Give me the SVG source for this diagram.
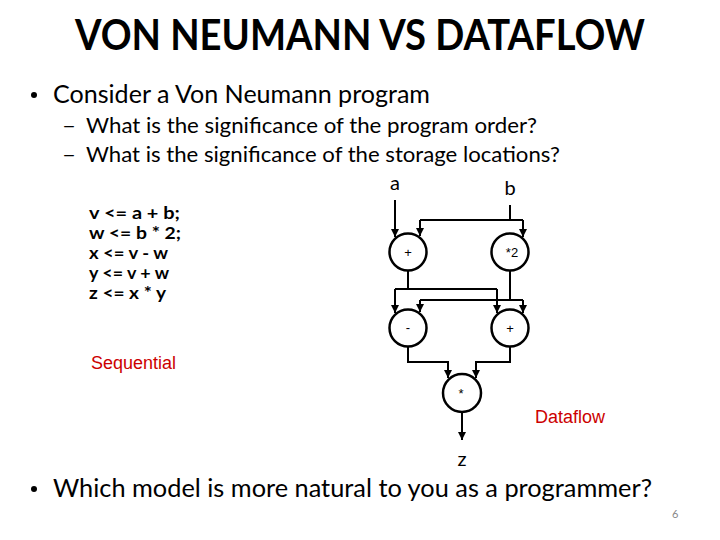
<svg xmlns="http://www.w3.org/2000/svg" width="720" height="540" viewBox="0 0 720 540">
<defs>
<marker id="ah" markerUnits="userSpaceOnUse" markerWidth="8" markerHeight="8" refX="8" refY="4" orient="auto"><path d="M0,0 L8,4 L0,8 z" fill="#000"/></marker>
<style>
.cal{font-family:Lato,"Open Sans","Liberation Sans",sans-serif;fill:#000}
.ar{font-family:"Liberation Sans",Arial,sans-serif}
.red{fill:#CC0000;font-size:18px}
.node circle{fill:#fff;stroke:#000;stroke-width:2.5}
.node text{font-family:"Liberation Sans",Arial,sans-serif;font-size:13px;text-anchor:middle}
.wire{fill:none;stroke:#000;stroke-width:2}
.arr{marker-end:url(#ah)}
.code{font-weight:bold;font-size:17.5px}
</style>
</defs>
<rect width="720" height="540" fill="#fff"/>
<text class="cal" x="360" y="50" font-size="42" font-weight="bold" text-anchor="middle" textLength="570" lengthAdjust="spacingAndGlyphs">VON NEUMANN VS DATAFLOW</text>
<circle cx="34" cy="95" r="3" fill="#000"/>
<text class="cal" x="53" y="103" font-size="25" textLength="377" lengthAdjust="spacingAndGlyphs">Consider a Von Neumann program</text>
<text class="cal" x="62" y="133" font-size="21" textLength="14" lengthAdjust="spacingAndGlyphs">–</text>
<text class="cal" x="86" y="133" font-size="21" textLength="451" lengthAdjust="spacingAndGlyphs">What is the significance of the program order?</text>
<text class="cal" x="62" y="162" font-size="21" textLength="14" lengthAdjust="spacingAndGlyphs">–</text>
<text class="cal" x="86" y="162" font-size="21" textLength="474" lengthAdjust="spacingAndGlyphs">What is the significance of the storage locations?</text>
<g id="code">
<text class="cal code" x="89" y="219" textLength="91" lengthAdjust="spacingAndGlyphs">v &lt;= a + b;</text>
<text class="cal code" x="89" y="239" textLength="92" lengthAdjust="spacingAndGlyphs">w &lt;= b * 2;</text>
<text class="cal code" x="89" y="259" textLength="79" lengthAdjust="spacingAndGlyphs">x &lt;= v - w</text>
<text class="cal code" x="89" y="279" textLength="80" lengthAdjust="spacingAndGlyphs">y &lt;= v + w</text>
<text class="cal code" x="89" y="299" textLength="77" lengthAdjust="spacingAndGlyphs">z &lt;= x * y</text>
</g>
<text class="ar red" x="91" y="369" textLength="85" lengthAdjust="spacingAndGlyphs">Sequential</text>
<text class="ar red" x="535" y="423" textLength="70" lengthAdjust="spacingAndGlyphs">Dataflow</text>
<text class="cal" x="395" y="190" font-size="20" text-anchor="middle">a</text>
<text class="cal" x="510" y="195" font-size="20" text-anchor="middle">b</text>
<text class="cal" x="462" y="466" font-size="20" text-anchor="middle">z</text>
<g id="connectors">
<path class="wire arr" d="M395,200 V237"/>
<path class="wire" d="M510,205 V220 M420,220 H523"/>
<path class="wire arr" d="M420,220 V236"/>
<path class="wire arr" d="M523,220 V237"/>
<path class="wire" d="M408,270 V289 M395,289 H497"/>
<path class="wire arr" d="M395,289 V313"/>
<path class="wire arr" d="M497,289 V313"/>
<path class="wire" d="M510,270 V300 M420,300 H523"/>
<path class="wire arr" d="M420,300 V312"/>
<path class="wire arr" d="M523,300 V313"/>
<path class="wire arr" d="M408,347 V362 H448 V378"/>
<path class="wire arr" d="M510,347 V362 H476 V378"/>
<path class="wire arr" d="M462,413 V440"/>
</g>
<g id="n1" class="node"><circle cx="408" cy="252" r="18.5"/><text x="408" y="257">+</text></g>
<g id="n2" class="node"><circle cx="510" cy="252" r="18.5"/><text x="512" y="257" font-size="14">*2</text></g>
<g id="n3" class="node"><circle cx="408" cy="328" r="18.5"/><text x="408" y="332">-</text></g>
<g id="n4" class="node"><circle cx="510" cy="328" r="18.5"/><text x="510" y="333">+</text></g>
<g id="n5" class="node"><circle cx="462" cy="393" r="19"/><text x="461" y="398" font-size="12">*</text></g>
<circle cx="34" cy="489" r="3" fill="#000"/>
<text class="cal" x="53" y="497" font-size="25" textLength="599" lengthAdjust="spacingAndGlyphs">Which model is more natural to you as a programmer?</text>
<text class="cal" x="672" y="518" font-size="11" style="fill:#888">6</text>
</svg>
